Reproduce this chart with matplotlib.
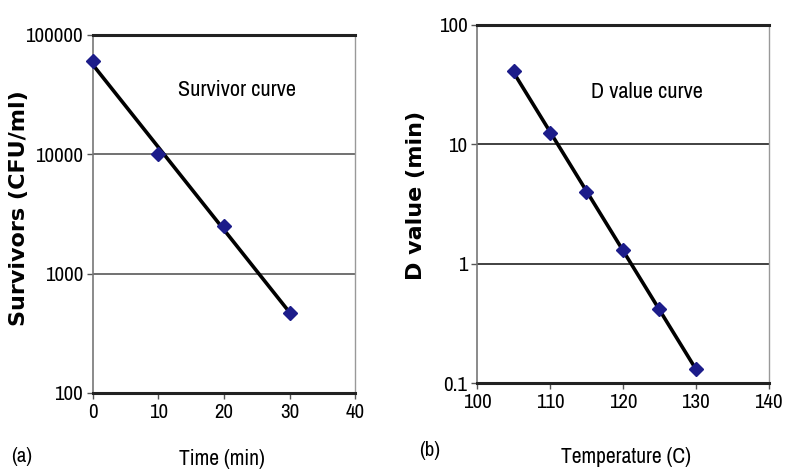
import matplotlib.pyplot as plt
import numpy as np

# (a) survivor curve data
time_min = [0, 10, 20, 30]
survivors = [60000, 10000, 2500, 470]

# (b) D value curve data
temp_c = [105, 110, 115, 120, 125, 130]
d_value = [41, 12.4, 4.0, 1.3, 0.42, 0.13]

plt.rcParams['font.family'] = ['Archivo Narrow', 'DejaVu Sans']
bold_family = ['DejaVu Sans']

fig = plt.figure(figsize=(7.86, 4.70), dpi=100)
ax1 = fig.add_axes([0.118, 0.164, 0.334, 0.762])
ax2 = fig.add_axes([0.607, 0.185, 0.371, 0.762])


def style_axis(ax, xs, ys, xlim, ylim, xticks, yticks, ylabels, grid_color):
    ax.set_yscale('log')
    ax.set_xlim(*xlim)
    ax.set_ylim(*ylim)
    ax.set_xticks(xticks)
    ax.set_xticklabels([str(t) for t in xticks])
    ax.set_yticks(yticks)
    ax.set_yticklabels(ylabels)
    ax.minorticks_off()
    for y in yticks[1:-1]:
        ax.axhline(y, color=grid_color, lw=1.3, zorder=1)
    ax.spines['top'].set_color('#222222')
    ax.spines['top'].set_linewidth(2.2)
    ax.spines['bottom'].set_color('#222222')
    ax.spines['bottom'].set_linewidth(2.2)
    ax.spines['left'].set_color('#777777')
    ax.spines['left'].set_linewidth(1.2)
    ax.spines['right'].set_color('#999999')
    ax.spines['right'].set_linewidth(1.0)
    ax.tick_params(axis='both', labelsize=15, length=4, width=1,
                   color='#555555', direction='out', pad=3)

    # exponential fit shown as a straight trend line on the log axis
    k, b = np.polyfit(xs, np.log10(ys), 1)
    xf = np.array([min(xs), max(xs)])
    ax.plot(xf, 10 ** (k * xf + b), color='black', lw=2.6, zorder=3)
    ax.plot(xs, ys, linestyle='none', marker='D', ms=7,
            color='#1c1c8a', zorder=4, clip_on=False)


style_axis(ax1, time_min, survivors, (0, 40), (100, 100000),
           [0, 10, 20, 30, 40], [100, 1000, 10000, 100000],
           ['100', '1000', '10000', '100000'], '#666666')
style_axis(ax2, temp_c, d_value, (100, 140), (0.1, 100),
           [100, 110, 120, 130, 140], [0.1, 1, 10, 100],
           ['0.1', '1', '10', '100'], '#333333')

# axis titles
fig.text(19 / 786, 1 - 208 / 470, 'Survivors (CFU/ml)', rotation=90,
         fontsize=16, fontweight='bold', family=bold_family,
         ha='center', va='center')
fig.text(416 / 786, 1 - 195 / 470, 'D value (min)', rotation=90,
         fontsize=16, fontweight='bold', family=bold_family,
         ha='center', va='center')
fig.text(222 / 786, 1 - 459 / 470, 'Time (min)', fontsize=15.5,
         ha='center', va='center')
fig.text(626 / 786, 1 - 457 / 470, 'Temperature (C)', fontsize=15.5,
         ha='center', va='center')
fig.text(22 / 786, 1 - 456 / 470, '(a)', fontsize=15, ha='center', va='center')
fig.text(430 / 786, 1 - 450 / 470, '(b)', fontsize=15, ha='center', va='center')

# in-plot captions
fig.text(237 / 786, 1 - 90 / 470, 'Survivor curve', fontsize=16,
         ha='center', va='center')
fig.text(647 / 786, 1 - 92 / 470, 'D value curve', fontsize=16,
         ha='center', va='center')

fig.savefig('out.png', dpi=100)
